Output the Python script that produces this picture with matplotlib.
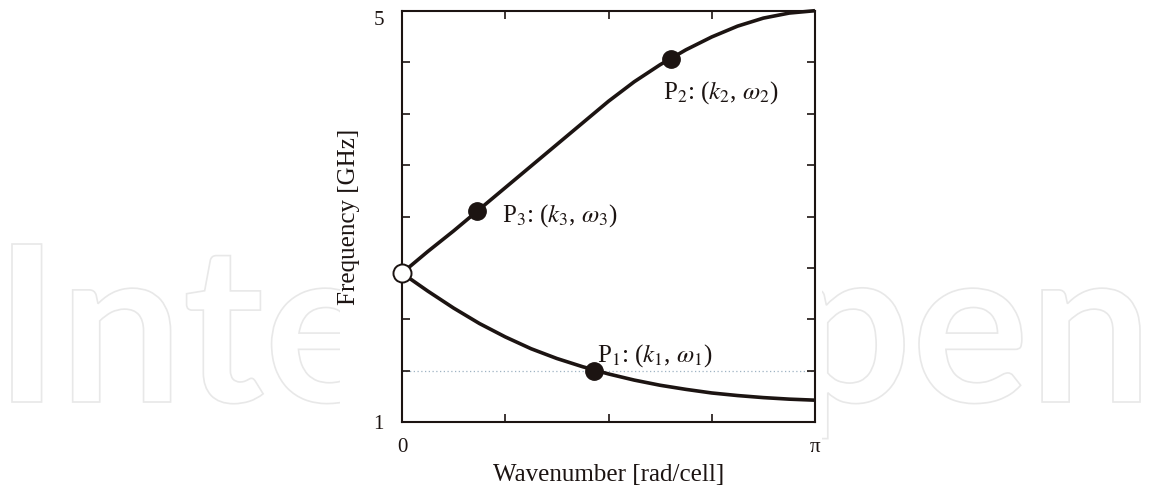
import numpy as np
import matplotlib
matplotlib.use("Agg")
import matplotlib.pyplot as plt
from matplotlib.patches import Rectangle, PathPatch
from matplotlib.textpath import TextPath
from matplotlib.font_manager import FontProperties
from matplotlib.transforms import Affine2D, IdentityTransform

# ---- data (k in units of pi, frequency in GHz) ----
k_over_pi = [0.0, 0.0625, 0.125, 0.1875, 0.25, 0.3125, 0.375, 0.4375, 0.5,
             0.5625, 0.625, 0.6875, 0.75, 0.8125, 0.875, 0.9375, 1.0]
upper_branch = [2.45, 2.66, 2.86, 3.07, 3.28, 3.49, 3.70, 3.91, 4.12,
                4.31, 4.475, 4.62, 4.745, 4.85, 4.928, 4.977, 5.0]
lower_branch = [2.45, 2.275, 2.11, 1.96, 1.83, 1.715, 1.62, 1.54, 1.47,
                1.41, 1.36, 1.32, 1.285, 1.26, 1.24, 1.225, 1.215]

gamma_point = (0.0, 2.45)
point_names = ["P$_1$: ($k_1$, $\\omega_1$)", "P$_2$: ($k_2$, $\\omega_2$)", "P$_3$: ($k_3$, $\\omega_3$)"]
point_k = [0.466, 0.651, 0.181]
point_f = [1.50, 4.53, 3.05]
ref_level = 1.5

x_tick_vals = [0, 0.25, 0.5, 0.75, 1.0]
x_tick_labels = ["0", "", "", "", "π"]
y_tick_vals = [1, 1.5, 2, 2.5, 3, 3.5, 4, 4.5, 5]
y_tick_labels = ["1", "", "", "", "", "", "", "", "5"]

watermark = "IntechOpen"

# ---- style ----
plt.rcParams['font.family'] = ['Liberation Serif', 'DejaVu Serif']
plt.rcParams['mathtext.fontset'] = 'stix'
ink = '#1c1412'

W, H = 1151, 490
fig = plt.figure(figsize=(W / 100, H / 100), dpi=100)
fig.patch.set_facecolor('white')

# watermark (outlined letters), fitted to the span seen in the reference
fp = FontProperties(family='Lato', weight='bold')
tp = TextPath((0, 0), watermark, size=100, prop=fp)
cap = TextPath((0, 0), "I", size=100, prop=fp).get_extents().y1
bb = tp.get_extents()
sy = 158.0 / cap
sx = (1140 - 12) / bb.width
tr = Affine2D().translate(-bb.x0, 0).scale(sx, sy).translate(12, H - 402)
fig.patches.append(PathPatch(tr.transform_path(tp), facecolor='white', edgecolor='#e8e8e8',
                             lw=1.2, transform=IdentityTransform(), zorder=0))
fig.patches.append(Rectangle((340 / W, 0), (822 - 340) / W, 1, transform=fig.transFigure,
                             facecolor='white', edgecolor='none', zorder=0.5))

ax = fig.add_axes([402 / W, (H - 422.3) / H, (815 - 402) / W, (422.3 - 10.7) / H])
ax.set_zorder(2)

x = np.array(k_over_pi) * np.pi
ax.plot([0, np.pi], [ref_level, ref_level], ls=(0, (1, 2)), color='#9fb3c3', lw=0.9, zorder=1)
ax.plot(x, upper_branch, color=ink, lw=2.6, zorder=3, clip_on=False, solid_capstyle='butt')
ax.plot(x, lower_branch, color=ink, lw=2.6, zorder=3, clip_on=False, solid_capstyle='butt')

ax.plot(np.array(point_k) * np.pi, point_f, 'o', ms=12.5, color=ink, zorder=4, clip_on=False)
ax.plot([gamma_point[0]], [gamma_point[1]], 'o', ms=13, mfc='white', mec=ink, mew=1.4,
        zorder=5, clip_on=False)

offsets = [(3, 9), (-8, -40), (25, -10)]
for name, kk, ff, off in zip(point_names, point_k, point_f, offsets):
    ax.annotate(name, xy=(kk * np.pi, ff), xytext=off, textcoords='offset pixels',
                fontsize=18, color=ink, ha='left', va='baseline', zorder=6)

ax.set_xlim(0, np.pi)
ax.set_ylim(1, 5)
ax.set_xticks(np.array(x_tick_vals) * np.pi)
ax.set_xticklabels(x_tick_labels)
ax.set_yticks(y_tick_vals)
ax.set_yticklabels(y_tick_labels)
ax.tick_params(direction='in', length=5.5, width=1.2, color=ink, labelcolor=ink,
               labelsize=15, top=True, right=True)
ax.tick_params(axis='x', pad=11)
ax.tick_params(axis='y', pad=13)
for lab in ax.get_yticklabels():
    if lab.get_text() == "5":
        lab.set_verticalalignment('top')
for sp in ax.spines.values():
    sp.set_color(ink)
    sp.set_linewidth(1.5)

ax.set_xlabel("Wavenumber [rad/cell]", fontsize=18, color=ink, labelpad=5)
ax.set_ylabel("Frequency [GHz]", fontsize=18, color=ink, labelpad=10)

fig.savefig("out.png", dpi=100, facecolor='white')
